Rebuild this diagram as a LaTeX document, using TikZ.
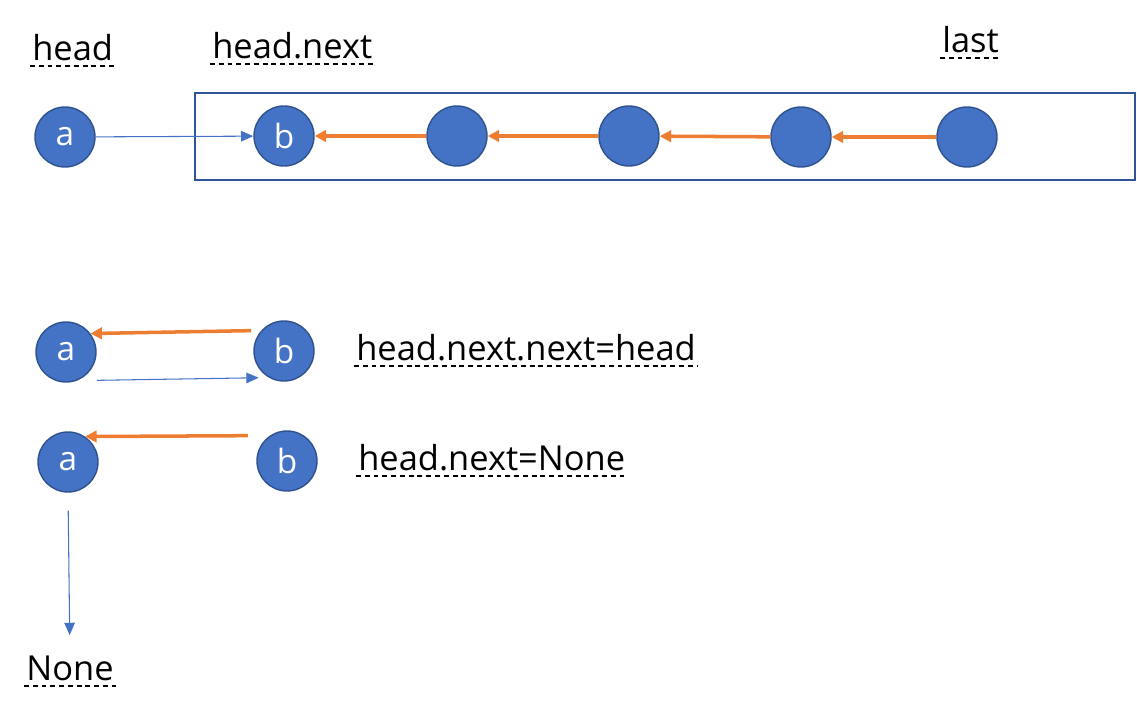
\documentclass[tikz,border=0pt]{standalone}
\usepackage{fontspec}
\setmainfont{Open Sans}
\usepackage{tikz}
\usetikzlibrary{arrows.meta,positioning,calc}
\definecolor{nodeblue}{RGB}{68,114,196}
\definecolor{nodeedge}{RGB}{47,82,143}
\definecolor{boxblue}{RGB}{47,85,151}
\definecolor{linkorange}{RGB}{237,125,49}

\begin{document}
\begin{tikzpicture}[
  x=0.02cm, y=0.02cm,
  nd/.style={circle, draw=nodeedge, line width=0.8pt, fill=nodeblue, minimum size=1.2cm, inner sep=0pt, text=white, font=\fontsize{19}{22}\selectfont},
  tag/.style={anchor=base west, inner sep=0pt, font=\fontsize{19.6}{24}\selectfont},
  uline/.style={dash pattern=on 2.8pt off 2.2pt, line width=1pt},
  old/.style={draw=nodeblue, line width=0.6pt, -{Triangle[length=7pt, width=6pt]}},
  rev/.style={draw=linkorange, line width=2pt, -{Triangle[length=6.5pt, width=6.5pt]}}
]
  \useasboundingbox (0,0) rectangle (1137,-710);

  % labels
  \node[tag] (hd) at (32,-60) {head};
  \node[tag] (hn) at (212,-58) {head.next};
  \node[tag] (ls) at (942,-52) {last};
  \node[tag] (eq1) at (356,-360) {head.next.next=head};
  \node[tag] (eq2) at (358,-470) {head.next=None};
  \node[tag] (none) at (26,-680) {None};
  \foreach \n in {hd,hn,ls,eq1,eq2,none}
    \draw[uline] ($(\n.base west)+(-2,-6)$) -- ($(\n.base east)+(2,-6)$);

  % first row
  \draw[boxblue, line width=1.1pt] (195,-93) rectangle (1135,-180);
  \node[nd] (a1) at (65,-137) {a};
  \node[nd] (b1) at (284,-136) {b};
  \node[nd] (c2) at (457,-136) {};
  \node[nd] (c3) at (629,-136) {};
  \node[nd] (c4) at (801,-137) {};
  \node[nd] (c5) at (967,-137) {};

  \draw[old] (a1) -- (b1);
  \draw[rev] (c2) -- (b1);
  \draw[rev] (c3) -- (c2);
  \draw[rev] (c4) -- (c3);
  \draw[rev] (c5) -- (c4);

  % head.next.next=head
  \node[nd] (a2) at (66,-352) {a};
  \node[nd] (b2) at (284,-351) {b};
  \draw[rev, shorten <=0.2cm] (b2.138) -- (a2.37);
  \draw[old, shorten <=0.4cm, shorten >=0.2cm] (a2.-69) -- (b2.240);

  % head.next=None
  \node[nd] (a3) at (68,-462) {a};
  \node[nd] (b3) at (287,-461) {b};
  \draw[rev, shorten <=0.44cm] (b3.124) -- (a3.56);
  \draw[old, shorten <=0.36cm, shorten >=0.4cm] (a3.south) -- (none.north);
\end{tikzpicture}
\end{document}
